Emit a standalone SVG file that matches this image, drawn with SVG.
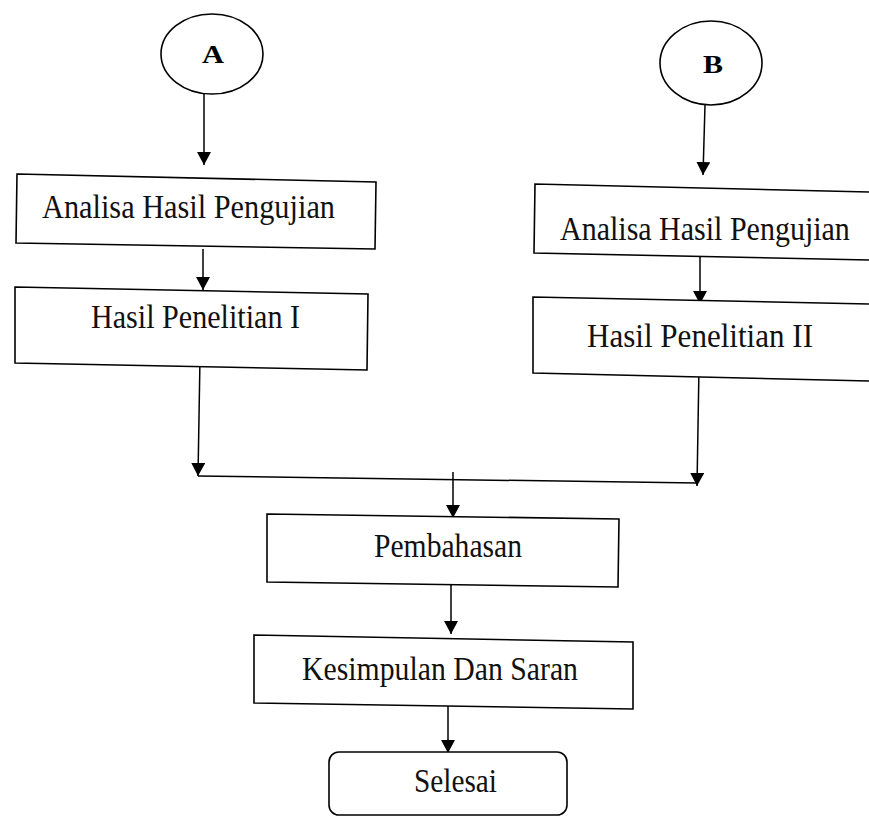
<svg xmlns="http://www.w3.org/2000/svg" width="869" height="818" viewBox="0 0 869 818">
<style>
.box{fill:#fff;stroke:#000;stroke-width:1.6}
.lbl{font-family:"Liberation Serif","Times New Roman",serif;font-size:34px;fill:#111}
.big{font-family:"Liberation Serif","Times New Roman",serif;font-size:25px;font-weight:bold;fill:#000}
.ln{fill:none;stroke:#000;stroke-width:1.5}
</style>
<defs>
<marker id="ah" markerUnits="userSpaceOnUse" viewBox="0 0 13 14" refX="13" refY="7" markerWidth="13" markerHeight="14" orient="auto">
<path d="M0,0 L13,7 L0,14 z" fill="#000"/>
</marker>
</defs>
<rect width="869" height="818" fill="#fff"/>
<g id="connectors">
<line class="ln" x1="204" y1="94" x2="204" y2="165" marker-end="url(#ah)"/>
<line class="ln" x1="203" y1="249" x2="203" y2="290" marker-end="url(#ah)"/>
<line class="ln" x1="200" y1="358" x2="198" y2="476" marker-end="url(#ah)"/>
<line class="ln" x1="198" y1="476" x2="697" y2="483"/>
<line class="ln" x1="705" y1="105" x2="703" y2="175" marker-end="url(#ah)"/>
<line class="ln" x1="700" y1="256" x2="700" y2="304" marker-end="url(#ah)"/>
<line class="ln" x1="699" y1="367" x2="697" y2="486" marker-end="url(#ah)"/>
<line class="ln" x1="453" y1="472" x2="453" y2="518" marker-end="url(#ah)"/>
<line class="ln" x1="451" y1="585" x2="451" y2="634" marker-end="url(#ah)"/>
<line class="ln" x1="448" y1="705" x2="448" y2="753" marker-end="url(#ah)"/>
</g>
<g id="nodeA">
<ellipse class="box" cx="212" cy="54" rx="51" ry="40" stroke-width="1.3"/>
<text class="big" x="202" y="63" textLength="22" lengthAdjust="spacingAndGlyphs">A</text>
</g>
<g id="nodeB">
<ellipse class="box" cx="711" cy="63" rx="51" ry="42" stroke-width="1.3"/>
<text class="big" x="703" y="73" textLength="20" lengthAdjust="spacingAndGlyphs">B</text>
</g>
<g id="analisa1">
<polygon class="box" points="17,174 376,182 375,249 16,243"/>
<text class="lbl" x="42" y="218" textLength="293" lengthAdjust="spacingAndGlyphs">Analisa Hasil Pengujian</text>
</g>
<g id="hasil1">
<polygon class="box" points="15,287 368,294 367,370 15,363"/>
<text class="lbl" x="91" y="328" textLength="209" lengthAdjust="spacingAndGlyphs">Hasil Penelitian I</text>
</g>
<g id="analisa2">
<path class="box" d="M869,192 L535,184 L534,253 L869,260"/>
<text class="lbl" style="font-size:30px" transform="translate(560,240) scale(1,1.13)" x="0" y="0">Analisa Hasil Pengujian</text>
</g>
<g id="hasil2">
<path class="box" d="M869,304 L533,297 L533,373 L869,381"/>
<text class="lbl" x="587" y="347" textLength="226" lengthAdjust="spacingAndGlyphs">Hasil Penelitian II</text>
</g>
<g id="pembahasan">
<polygon class="box" points="267,514 619,519 618,587 267,582"/>
<text class="lbl" x="374" y="557" textLength="148" lengthAdjust="spacingAndGlyphs">Pembahasan</text>
</g>
<g id="kesimpulan">
<polygon class="box" points="254,635 633,642 633,709 254,703"/>
<text class="lbl" x="302" y="680" textLength="276" lengthAdjust="spacingAndGlyphs">Kesimpulan Dan Saran</text>
</g>
<g id="selesai">
<rect class="box" x="329" y="752" width="238" height="63" rx="10"/>
<text class="lbl" x="414" y="792" textLength="83" lengthAdjust="spacingAndGlyphs">Selesai</text>
</g>
</svg>
